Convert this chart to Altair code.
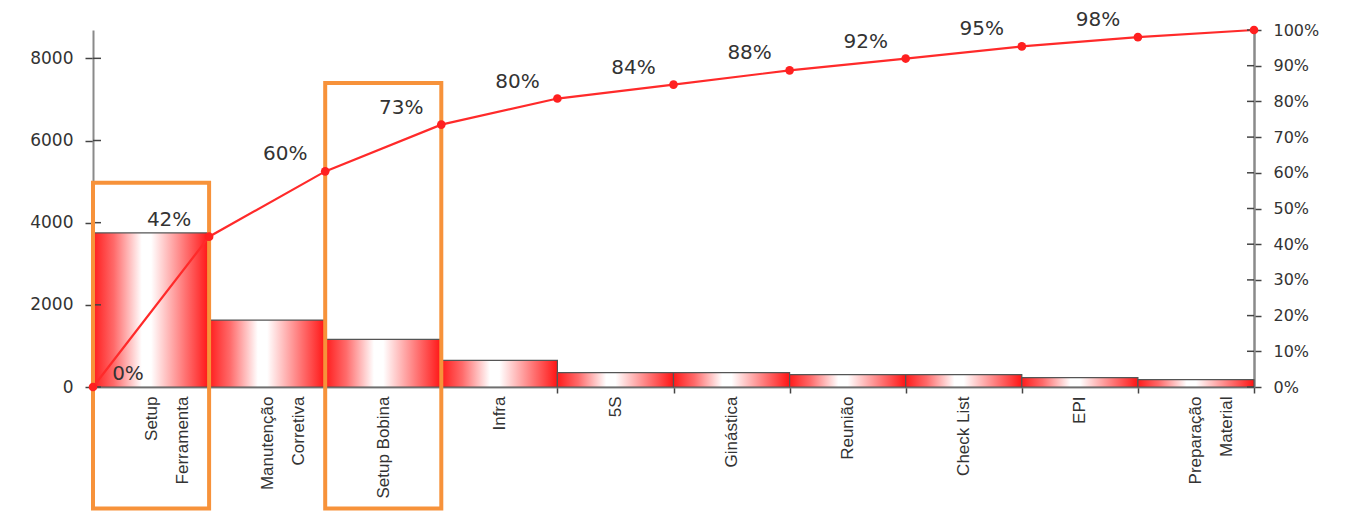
import altair as alt
import pandas as pd

# ---- data ----
categories = ["Setup|Ferramenta", "Manutenção|Corretiva", "Setup Bobina", "Infra", "5S",
              "Ginástica", "Reunião", "Check List", "EPI", "Preparação|Material"]
values = [3750, 1630, 1160, 650, 350, 350, 300, 300, 230, 180]

cum_pos = list(range(11))
cum_pct = [0, 42.1, 60.4, 73.5, 80.8, 84.7, 88.7, 92.0, 95.4, 98.0, 100]
cum_labels = ["0%", "42%", "60%", "73%", "80%", "84%", "88%", "92%", "95%", "98%", ""]

highlight_cats = ["Setup|Ferramenta", "Setup Bobina"]
highlight_top = [4970, 7400]
highlight_bottom = [-2960, -2960]

left_ticks = [0, 2000, 4000, 6000, 8000]
right_ticks = [0, 10, 20, 30, 40, 50, 60, 70, 80, 90, 100]

W, H = 1161, 357
AXIS_FONT = "DejaVu Sans"

bars_df = pd.DataFrame({"cat": categories, "value": values})
box_df = pd.DataFrame({"cat": highlight_cats, "value": highlight_top, "bottom": highlight_bottom})
line_df = pd.DataFrame({"pos": cum_pos, "pct": cum_pct, "label": cum_labels})
lt_df = pd.DataFrame({"value": left_ticks})
rt_df = pd.DataFrame({"pct": right_ticks})

gradient = alt.LinearGradient(
    gradient="linear",
    stops=[
        alt.GradientStop(color="#ff1c1c", offset=0),
        alt.GradientStop(color="#ff6a6a", offset=0.18),
        alt.GradientStop(color="#ffffff", offset=0.42),
        alt.GradientStop(color="#ffffff", offset=0.5),
        alt.GradientStop(color="#ff7070", offset=0.8),
        alt.GradientStop(color="#ff1414", offset=1),
    ],
    x1=0, x2=1, y1=0, y2=0,
)

x_axis = alt.Axis(
    title=None, labelAngle=-90, labelAlign="right", labelBaseline="middle",
    labelExpr="split(datum.label, '|')", tickBand="extent",
    labelFont="Liberation Sans", labelFontSize=17, labelColor="#333333",
    labelLineHeight=31, labelPadding=3, labelLimit=300,
    tickColor="#444444", tickSize=6, tickWidth=1.5,
    domainColor="#8a8a8a", domainWidth=2,
)
x_scale = alt.Scale(paddingInner=0, paddingOuter=0)

left_axis = alt.Axis(
    title=None, orient="left", values=left_ticks, grid=False, format="d",
    labelOverlap=False,
    labelFont=AXIS_FONT, labelFontSize=17, labelColor="#333333",
    labelPadding=12, tickSize=8, tickColor="#444444", tickWidth=1.5,
    domainColor="#8a8a8a", domainWidth=2,
)
left_scale = alt.Scale(domain=[0, 8690], nice=False, zero=True)

bars = alt.Chart(bars_df).mark_bar(fill=gradient, stroke="#555555", strokeWidth=1.2).encode(
    x=alt.X("cat:N", sort=categories, scale=x_scale, axis=x_axis),
    y=alt.Y("value:Q", scale=left_scale, axis=left_axis),
)

boxes = alt.Chart(box_df).mark_rect(
    fill="white", fillOpacity=0, stroke="#f7923a", strokeWidth=4
).encode(
    x=alt.X("cat:N", sort=categories, scale=x_scale, axis=x_axis),
    y=alt.Y("value:Q", scale=left_scale, axis=left_axis),
    y2="bottom:Q",
)

left_inner = alt.Chart(lt_df).mark_rule(color="#444444", strokeWidth=1.5).encode(
    y=alt.Y("value:Q", scale=left_scale, axis=left_axis), x=alt.value(0), x2=alt.value(8)
)

left_group = alt.layer(bars, left_inner, boxes)

right_axis = alt.Axis(
    title=None, orient="right", values=right_ticks, grid=False,
    labelExpr="datum.value + '%'", labelOverlap=False,
    labelFont=AXIS_FONT, labelFontSize=16, labelColor="#333333",
    labelPadding=12, tickSize=7, tickColor="#444444", tickWidth=1.5,
    domainColor="#8a8a8a", domainWidth=2.5,
)
right_scale = alt.Scale(domain=[0, 100], nice=False)
x_q = alt.X("pos:Q", scale=alt.Scale(domain=[0, 10], nice=False, zero=True), axis=None)
y_r = alt.Y("pct:Q", scale=right_scale, axis=right_axis)

base_line = alt.Chart(line_df)
line = base_line.mark_line(color="#ff2a2a", strokeWidth=2.2).encode(x=x_q, y=y_r)
points = base_line.mark_point(filled=True, color="#ff2020", size=75, opacity=1).encode(
    x=x_q, y=y_r
)
labels = base_line.transform_filter("datum.pos >= 1").mark_text(
    font=AXIS_FONT, fontSize=20, color="#333333", dx=-40, dy=-17,
    align="center", baseline="middle",
).encode(x=x_q, y=y_r, text="label:N")
label0 = base_line.transform_filter("datum.pos == 0").mark_text(
    font=AXIS_FONT, fontSize=20, color="#333333", dx=35, dy=-13,
    align="center", baseline="middle",
).encode(x=x_q, y=y_r, text="label:N")

right_inner = alt.Chart(rt_df).mark_rule(color="#444444", strokeWidth=1.5).encode(
    y=y_r, x=alt.value(W - 7), x2=alt.value(W)
)

right_group = alt.layer(line, right_inner, points, labels, label0)

chart = alt.layer(left_group, right_group).resolve_scale(
    x="independent", y="independent"
).properties(
    width=W, height=H,
    padding={"left": 85, "top": 22, "right": 90, "bottom": 131},
    autosize=alt.AutoSizeParams(type="none"),
).configure_view(stroke=None).configure_axis(labelOverlap=False)

chart.save("out.html", embed_options={"renderer": "svg", "actions": False})
